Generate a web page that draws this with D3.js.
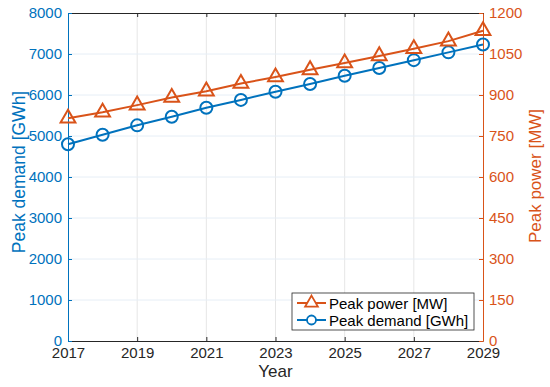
<!DOCTYPE html>
<html>
<head>
<meta charset="utf-8">
<script src="https://cdn.jsdelivr.net/npm/d3@7"></script>
<style>
  body { margin: 0; background: #fff; }
  text { font-family: "Liberation Sans", Arial, sans-serif; }
</style>
</head>
<body>
<div id="chart"></div>
<script>
// data
var years = [2017, 2018, 2019, 2020, 2021, 2022, 2023, 2024, 2025, 2026, 2027, 2028, 2029];
var demand = [4800, 5030, 5260, 5470, 5690, 5880, 6080, 6270, 6470, 6660, 6850, 7040, 7230];
var power = [815, 837, 863, 891, 914, 942, 966, 992, 1017, 1043, 1069, 1097, 1135];
var xTicks = [2017, 2019, 2021, 2023, 2025, 2027, 2029];
var leftTicks = [0, 1000, 2000, 3000, 4000, 5000, 6000, 7000, 8000];
var rightTicks = [0, 150, 300, 450, 600, 750, 900, 1050, 1200];

var blue = "#0072BD", orange = "#D95319";

var W = 550, H = 387;
var margin = { top: 13, right: 67, bottom: 46, left: 68 };
var width = W - margin.left - margin.right;
var height = H - margin.top - margin.bottom;

var svg = d3.select("#chart").append("svg")
    .attr("width", W)
    .attr("height", H);

var g = svg.append("g")
    .attr("transform", "translate(" + margin.left + "," + margin.top + ")");

var x = d3.scaleLinear().domain([2017, 2029]).range([0, width]);
var yL = d3.scaleLinear().domain([0, 8000]).range([height, 0]);
var yR = d3.scaleLinear().domain([0, 1200]).range([height, 0]);

// grid
g.append("g").selectAll("line").data(xTicks.slice(1, -1)).enter().append("line")
    .attr("x1", d => x(d)).attr("x2", d => x(d))
    .attr("y1", 0).attr("y2", height)
    .attr("stroke", "#e6e6e6").attr("stroke-width", 1);
g.append("g").selectAll("line").data(leftTicks.slice(1, -1)).enter().append("line")
    .attr("x1", 0).attr("x2", width)
    .attr("y1", d => yL(d)).attr("y2", d => yL(d))
    .attr("stroke", "#e6eef6").attr("stroke-width", 1);

// bottom axis
var xAxis = g.append("g")
    .attr("transform", "translate(0," + height + ")")
    .call(d3.axisBottom(x).tickValues(xTicks).tickFormat(d3.format("d")).tickSizeInner(-4).tickSizeOuter(0).tickPadding(6));
xAxis.select(".domain").attr("stroke", "#262626");
xAxis.selectAll(".tick line").attr("stroke", "#262626");
xAxis.selectAll("text").attr("fill", "#262626").attr("font-size", 15);

// top axis
var xTop = g.append("g")
    .call(d3.axisTop(x).tickValues(xTicks).tickSizeInner(-4).tickSizeOuter(0).tickFormat(""));
xTop.select(".domain").attr("stroke", "#262626");
xTop.selectAll(".tick line").attr("stroke", "#262626");

// left axis
var left = g.append("g")
    .call(d3.axisLeft(yL).tickValues(leftTicks).tickFormat(d3.format("d")).tickSizeInner(-4).tickSizeOuter(0).tickPadding(6));
left.select(".domain").attr("stroke", blue);
left.selectAll(".tick line").attr("stroke", blue);
left.selectAll("text").attr("fill", blue).attr("font-size", 15);

// right axis
var right = g.append("g")
    .attr("transform", "translate(" + width + ",0)")
    .call(d3.axisRight(yR).tickValues(rightTicks).tickFormat(d3.format("d")).tickSizeInner(-4).tickSizeOuter(0).tickPadding(6));
right.select(".domain").attr("stroke", orange);
right.selectAll(".tick line").attr("stroke", orange);
right.selectAll("text").attr("fill", orange).attr("font-size", 15);

// axis labels
svg.append("text")
    .attr("x", margin.left + width / 2).attr("y", 377)
    .attr("text-anchor", "middle").attr("font-size", 17).attr("fill", "#262626")
    .text("Year");
svg.append("text")
    .attr("transform", "translate(25,172) rotate(-90)")
    .attr("text-anchor", "middle").attr("font-size", 17.5).attr("fill", blue)
    .text("Peak demand [GWh]");
svg.append("text")
    .attr("transform", "translate(541,176) rotate(-90)")
    .attr("text-anchor", "middle").attr("font-size", 17).attr("fill", orange)
    .text("Peak power [MW]");

// series
var demandLine = d3.line().x((d, i) => x(years[i])).y(d => yL(d));
var powerLine = d3.line().x((d, i) => x(years[i])).y(d => yR(d));

g.append("path").datum(demand)
    .attr("d", demandLine).attr("fill", "none").attr("stroke", blue).attr("stroke-width", 2);
g.selectAll(".dm").data(demand).enter().append("circle")
    .attr("class", "dm")
    .attr("cx", (d, i) => x(years[i])).attr("cy", d => yL(d))
    .attr("r", 6).attr("fill", "none").attr("stroke", blue).attr("stroke-width", 2);

var tri = d3.symbol().type(d3.symbolTriangle).size(95);
g.append("path").datum(power)
    .attr("d", powerLine).attr("fill", "none").attr("stroke", orange).attr("stroke-width", 2);
g.selectAll(".pm").data(power).enter().append("path")
    .attr("class", "pm")
    .attr("transform", (d, i) => "translate(" + x(years[i]) + "," + yR(d) + ")")
    .attr("d", tri).attr("fill", "none").attr("stroke", orange).attr("stroke-width", 2);

// legend
var lg = svg.append("g").attr("transform", "translate(292,293)");
lg.append("rect").attr("width", 182).attr("height", 37)
    .attr("fill", "#fff").attr("stroke", "#262626").attr("stroke-width", 0.8);
var items = [
    { label: "Peak power [MW]", color: orange, sym: "tri" },
    { label: "Peak demand [GWh]", color: blue, sym: "circ" }
];
items.forEach(function (it, i) {
    var yy = 10 + i * 17;
    lg.append("line").attr("x1", 5).attr("x2", 34).attr("y1", yy).attr("y2", yy)
        .attr("stroke", it.color).attr("stroke-width", 2);
    if (it.sym === "tri") {
        lg.append("path").attr("transform", "translate(19.5," + yy + ")")
            .attr("d", d3.symbol().type(d3.symbolTriangle).size(70))
            .attr("fill", "#fff").attr("stroke", it.color).attr("stroke-width", 1.8);
    } else {
        lg.append("circle").attr("cx", 19.5).attr("cy", yy).attr("r", 4.5)
            .attr("fill", "#fff").attr("stroke", it.color).attr("stroke-width", 1.8);
    }
    lg.append("text").attr("x", 37).attr("y", yy + 5.5)
        .attr("font-size", 15).attr("fill", "#000").text(it.label);
});
</script>
</body>
</html>
